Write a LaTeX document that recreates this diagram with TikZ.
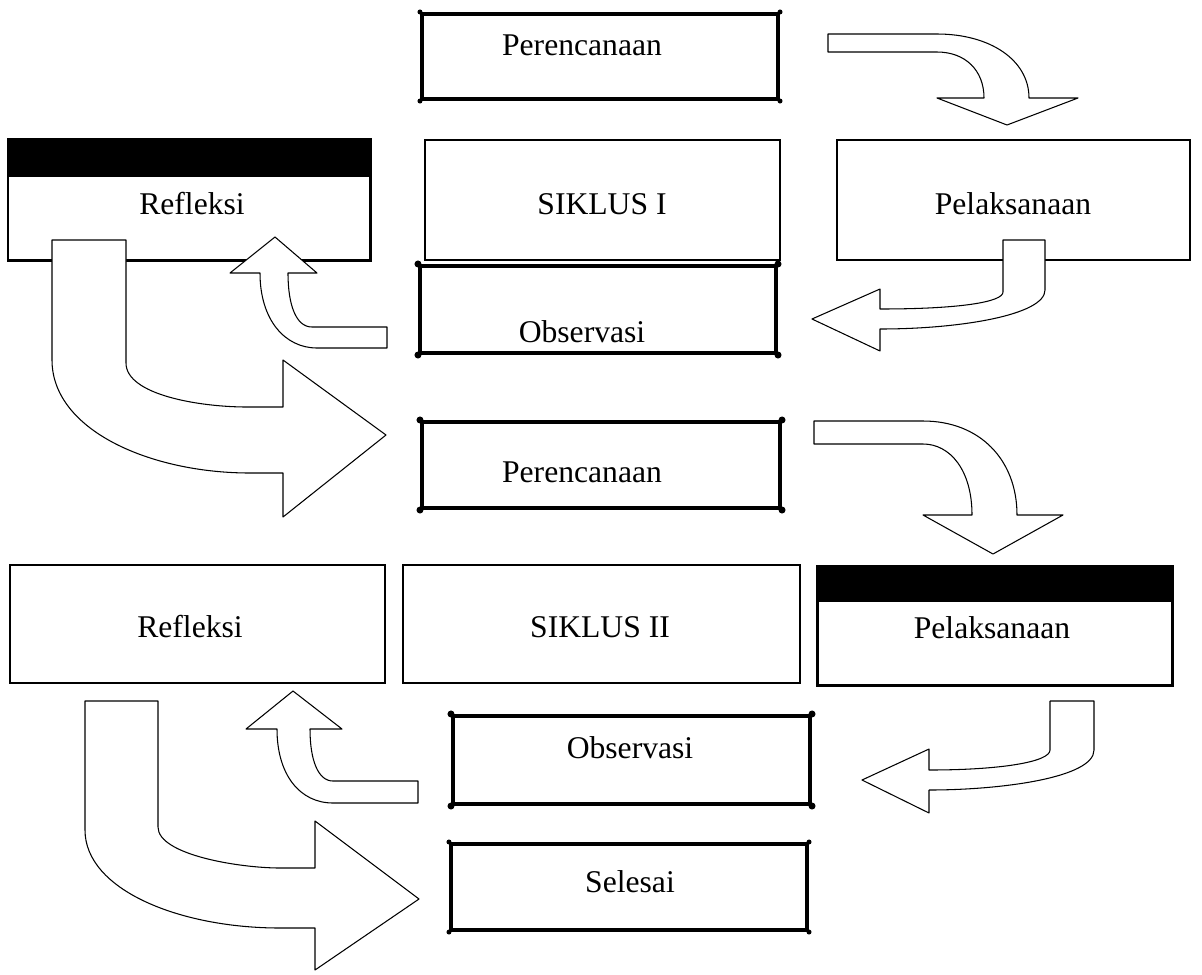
\documentclass[tikz,border=0pt]{standalone}
\usepackage{fontspec}
\setmainfont{Liberation Serif}
\usetikzlibrary{calc}
\usetikzlibrary{positioning}

\begin{document}
\begin{tikzpicture}[x=0.02cm,y=-0.02cm,semithick]
	\tikzstyle{box}=[draw=black, fill=white, inner sep=0pt, line width=1.1pt]
	\tikzstyle{midbox}=[box, line width=1.7pt]
	\tikzstyle{thickbox}=[box, line width=2.3pt]
	\tikzstyle{txt}=[font=\fontsize{18}{22}\selectfont, inner sep=0pt]
	\tikzstyle{blockarrow}=[draw=black, fill=white, line width=0.6pt, line join=round]
	\useasboundingbox (0,0) rectangle (1202,974);

	% boxes
	\foreach \nm/\st/\xa/\ya/\xb/\yb in {per1/thickbox/422/14/778/99, ref1/midbox/8/139/370/260,
		sik1/box/425/140/780/260, pel1/box/837/140/1190/260, obs1/thickbox/420/266/776/353,
		per2/thickbox/422/422/780/508, ref2/box/10/565/385/683, sik2/box/403/565/800/683,
		pel2/midbox/817/566/1172/685, obs2/thickbox/453/716/810/804, sel/thickbox/451/844/807/930}{
		\node[\st, minimum width=(\xb-\xa)*0.02cm, minimum height=(\yb-\ya)*0.02cm] (\nm) at ({(\xa+\xb)/2},{(\ya+\yb)/2}) {};
	}
	\fill (ref1.north west) rectangle ($(ref1.north east)+(0,39)$);
	\fill (pel2.north west) rectangle ($(pel2.north east)+(0,37)$);
	\foreach \b in {obs1,per2,obs2}{
		\foreach \c in {north west,north east,south west,south east}{
			\fill (\b.\c) circle (0.07cm);
		}
	}
	\foreach \b in {per1,sel}{
		\foreach \c in {north west,north east,south west,south east}{
			\fill (\b.\c) circle (0.05cm);
		}
	}

	% texts
	\node[txt] (tper1) at (582,45) {Perencanaan};
	\node[txt] (tref1) at (192,204) {Refleksi};
	\node[txt] (tsik1) at (602,204) {SIKLUS I};
	\node[txt] (tpel1) at (1013,204) {Pelaksanaan};
	\node[txt] (tobs1) at (582,332) {Observasi};
	\node[txt] (tper2) at (582,472) {Perencanaan};
	\node[txt] (tref2) at (190,627) {Refleksi};
	\node[txt] (tsik2) at (600,627) {SIKLUS II};
	\node[txt] (tpel2) at (992,628) {Pelaksanaan};
	\node[txt] (tobs2) at (630,748) {Observasi};
	\node[txt] (tsel) at (630,882) {Selesai};

	% curved block arrows
	\draw[blockarrow] (828,34) -- (937,34) .. controls (990,34) and (1029,60) .. (1029,98) -- (1078,98) -- (1007,125)
		-- (937,98) -- (984,98) .. controls (984,70) and (965,52) .. (937,52) -- (828,52) -- cycle;
	\draw[blockarrow] (1003,240) -- (1045,240) -- (1045,290) .. controls (1045,315) and (960,329) .. (880,329) -- (880,351)
		-- (812,319) -- (880,289) -- (880,309) .. controls (960,309) and (1003,302) .. (1003,292) -- cycle;
	\draw[blockarrow] (387,327) -- (312,327) .. controls (296,327) and (288,305) .. (288,273) -- (317,273) -- (275,237)
		-- (230,273) -- (260,273) .. controls (260,320) and (285,348) .. (317,348) -- (387,348) -- cycle;
	\draw[blockarrow] (52,240) -- (126,240) -- (126,363) .. controls (126,395) and (200,407) .. (247,407) -- (283,407)
		-- (283,360) -- (386,435) -- (283,517) -- (283,473) -- (250,473) .. controls (150,473) and (52,430) .. (52,360) -- cycle;
	\draw[blockarrow] (814,421) -- (923,421) .. controls (980,421) and (1017,460) .. (1017,515) -- (1063,515) -- (993,554)
		-- (923,515) -- (972,515) .. controls (972,470) and (950,444) .. (923,444) -- (814,444) -- cycle;
	\draw[blockarrow] (1050,701) -- (1094,701) -- (1094,750) .. controls (1094,778) and (1000,790) .. (929,790) -- (929,813)
		-- (862,780) -- (929,749) -- (929,770) .. controls (1000,770) and (1050,762) .. (1050,750) -- cycle;
	\draw[blockarrow] (418,781) -- (333,781) .. controls (318,781) and (310,760) .. (310,729) -- (342,729) -- (293,691)
		-- (246,729) -- (277,729) .. controls (277,775) and (300,803) .. (333,803) -- (418,803) -- cycle;
	\draw[blockarrow] (85,701) -- (158,701) -- (158,827) .. controls (158,855) and (240,868) .. (280,868) -- (315,868)
		-- (315,821) -- (419,899) -- (315,970) -- (315,928) -- (280,928) .. controls (180,928) and (85,890) .. (85,830) -- cycle;
\end{tikzpicture}
\end{document}
